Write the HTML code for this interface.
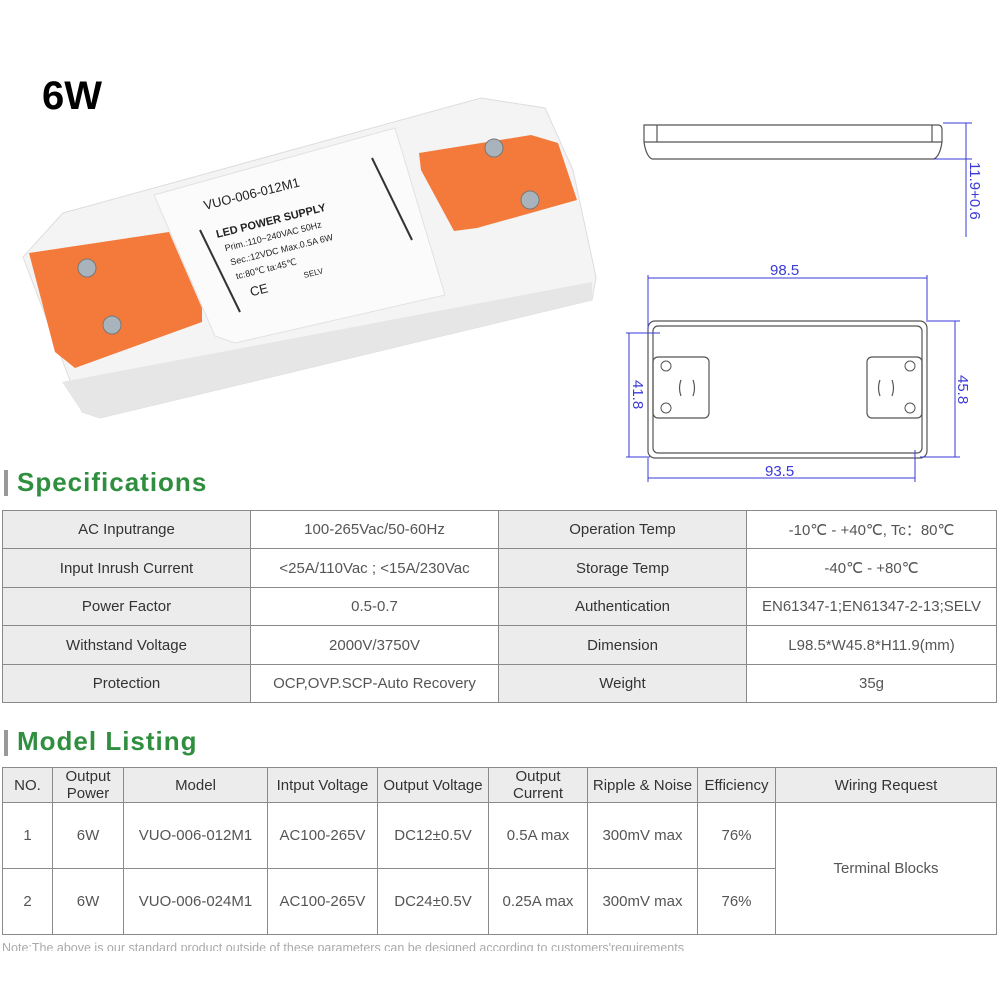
<!DOCTYPE html>
<html><head><meta charset="utf-8"><style>
body{margin:0;width:1000px;height:1000px;background:#fff;position:relative;overflow:hidden;font-family:"Liberation Sans",sans-serif}
.abs{position:absolute}
table{border-collapse:collapse;position:absolute;table-layout:fixed}
td{border:1px solid #8a8a8a;text-align:center;padding:0;font-size:15px;color:#555}
.g{background:#ececec;color:#333}
.h{font-size:26px;font-weight:bold;color:#2f8f3f;letter-spacing:1px}
.bar{width:4px;height:26px;background:#999}
</style></head><body>
<div class="abs" style="left:42px;top:74px;font-size:40px;font-weight:bold;color:#000">6W</div>

<svg class="abs" style="left:0;top:0" width="600" height="440">
 <polygon points="23,257 63,213 481,98 545,108 573,170 596,277 592,300 100,418 82,412" fill="#f4f4f4" stroke="#ddd"/>
 <polygon points="62,382 592,282 592,300 100,418 82,412" fill="#e6e6e6"/>
 <polygon points="154,195 395,128 445,295 235,343 215,336" fill="#fbfbfb" stroke="#e2e2e2"/>
 <polygon points="29,253 169,232 202,308 202,322 75,368 55,352" fill="#f47a3c"/>
 <polygon points="419,153 531,135 558,143 577,200 477,228 454,231 421,170" fill="#f47a3c"/>
 <circle cx="87" cy="268" r="9" fill="#a9b3bb" stroke="#777"/><circle cx="112" cy="325" r="9" fill="#a9b3bb" stroke="#777"/>
 <circle cx="494" cy="148" r="9" fill="#a9b3bb" stroke="#777"/><circle cx="530" cy="200" r="9" fill="#a9b3bb" stroke="#777"/>
 <g transform="translate(205,210) rotate(-14)" font-family="Liberation Sans" fill="#222">
  <text x="0" y="0" font-size="13">VUO-006-012M1</text>
  <text x="5" y="30" font-size="11" font-weight="bold">LED POWER SUPPLY</text>
  <text x="10" y="45" font-size="9">Prim.:110~240VAC 50Hz</text>
  <text x="12" y="60" font-size="9">Sec.:12VDC  Max.0.5A  6W</text>
  <text x="14" y="75" font-size="9">tc:80℃  ta:45℃</text>
  <text x="24" y="95" font-size="13">CE</text>
  <text x="80" y="90" font-size="8">SELV</text>
 </g>
 <line x1="200" y1="230" x2="240" y2="312" stroke="#333" stroke-width="2"/>
 <line x1="372" y1="158" x2="412" y2="240" stroke="#333" stroke-width="2"/>
</svg>

<svg class="abs" style="left:600px;top:0" width="400" height="500" font-family="Liberation Sans">
 <g stroke="#555" fill="none" stroke-width="1.2">
  <path d="M44,125 H338 Q342,125 342,130 V142 Q340,156 334,159 H52 Q46,156 44,142 Z"/>
  <line x1="44" y1="142" x2="342" y2="142"/><line x1="57" y1="125" x2="57" y2="142"/><line x1="332" y1="125" x2="332" y2="142"/>
  <rect x="48" y="321" width="279" height="137" rx="7"/>
  <rect x="53" y="326" width="269" height="127" rx="5"/>
  <rect x="53" y="357" width="56" height="61" rx="5"/>
  <rect x="267" y="357" width="55" height="61" rx="5"/>
  <path d="M81,380 q-3,8 0,16 M93,380 q3,8 0,16 M280,380 q-3,8 0,16 M292,380 q3,8 0,16"/>
 </g>
 <g fill="#fff" stroke="#555"><circle cx="66" cy="366" r="5"/><circle cx="66" cy="408" r="5"/><circle cx="310" cy="366" r="5"/><circle cx="310" cy="408" r="5"/></g>
 <g stroke="#3a3ad8" stroke-width="1" fill="#3a3ad8">
  <line x1="343" y1="123" x2="372" y2="123"/><line x1="333" y1="159" x2="372" y2="159"/>
  <line x1="366" y1="123" x2="366" y2="237"/>
  <line x1="48" y1="278" x2="327" y2="278"/><line x1="48" y1="275" x2="48" y2="330"/><line x1="327" y1="275" x2="327" y2="322"/>
  <line x1="29" y1="333" x2="29" y2="457"/><line x1="26" y1="333" x2="60" y2="333"/><line x1="26" y1="457" x2="50" y2="457"/>
  <line x1="355" y1="321" x2="355" y2="457"/><line x1="328" y1="321" x2="360" y2="321"/><line x1="320" y1="457" x2="360" y2="457"/>
  <line x1="48" y1="478" x2="315" y2="478"/><line x1="48" y1="458" x2="48" y2="482"/><line x1="315" y1="450" x2="315" y2="482"/>
 </g>
 <g fill="#3a3ad8" font-size="15">
  <text x="170" y="275">98.5</text><text x="165" y="476">93.5</text>
  <text transform="translate(370,162) rotate(90)">11.9+0.6</text>
  <text transform="translate(33,380) rotate(90)">41.8</text>
  <text transform="translate(358,375) rotate(90)">45.8</text>
 </g>
</svg>

<div class="abs bar" style="left:4px;top:470px"></div>
<div class="abs h" style="left:17px;top:467px">Specifications</div>
<table style="left:2px;top:510px;width:994px">
<colgroup><col style="width:248px"><col style="width:248px"><col style="width:248px"><col style="width:250px"></colgroup>
<tr style="height:38px"><td class="g">AC Inputrange</td><td>100-265Vac/50-60Hz</td><td class="g">Operation Temp</td><td>-10℃ - +40℃,  Tc：80℃</td></tr>
<tr style="height:39px"><td class="g">Input Inrush Current</td><td>&lt;25A/110Vac ; &lt;15A/230Vac</td><td class="g">Storage Temp</td><td>-40℃ - +80℃</td></tr>
<tr style="height:38px"><td class="g">Power Factor</td><td>0.5-0.7</td><td class="g">Authentication</td><td>EN61347-1;EN61347-2-13;SELV</td></tr>
<tr style="height:39px"><td class="g">Withstand Voltage</td><td>2000V/3750V</td><td class="g">Dimension</td><td>L98.5*W45.8*H11.9(mm)</td></tr>
<tr style="height:38px"><td class="g">Protection</td><td>OCP,OVP.SCP-Auto Recovery</td><td class="g">Weight</td><td>35g</td></tr>
</table>

<div class="abs bar" style="left:4px;top:730px"></div>
<div class="abs h" style="left:17px;top:726px">Model Listing</div>
<table style="left:2px;top:767px;width:994px">
<colgroup><col style="width:50px"><col style="width:71px"><col style="width:144px"><col style="width:110px"><col style="width:111px"><col style="width:99px"><col style="width:110px"><col style="width:78px"><col style="width:221px"></colgroup>
<tr style="height:34px;line-height:17px"><td class="g">NO.</td><td class="g">Output Power</td><td class="g">Model</td><td class="g">Intput Voltage</td><td class="g">Output Voltage</td><td class="g">Output Current</td><td class="g">Ripple &amp; Noise</td><td class="g">Efficiency</td><td class="g">Wiring Request</td></tr>
<tr style="height:66px"><td>1</td><td>6W</td><td>VUO-006-012M1</td><td>AC100-265V</td><td>DC12±0.5V</td><td>0.5A max</td><td>300mV max</td><td>76%</td><td rowspan="2">Terminal Blocks</td></tr>
<tr style="height:66px"><td>2</td><td>6W</td><td>VUO-006-024M1</td><td>AC100-265V</td><td>DC24±0.5V</td><td>0.25A max</td><td>300mV max</td><td>76%</td></tr>
</table>
<div class="abs" style="left:2px;top:941px;height:10px;overflow:hidden;font-size:12.5px;line-height:15px;color:#aaa;white-space:nowrap">Note:The above is our standard product outside of these parameters can be designed according to customers'requirements</div>
</body></html>
